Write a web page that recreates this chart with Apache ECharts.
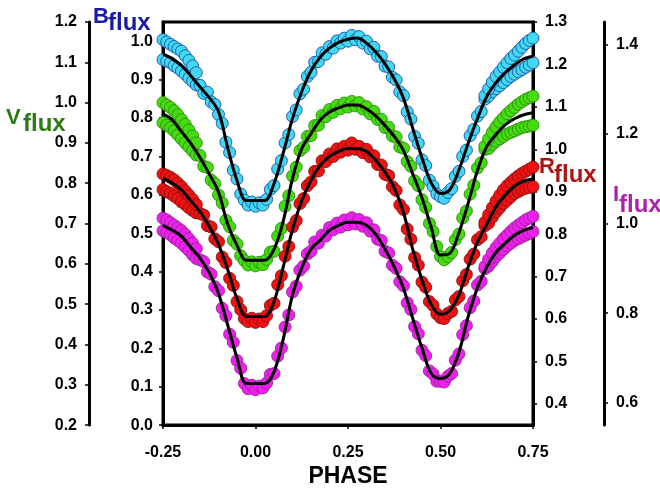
<!DOCTYPE html>
<html>
<head>
<meta charset="utf-8">
<script src="https://cdn.jsdelivr.net/npm/echarts@6/dist/echarts.min.js"></script>
<style>html,body{margin:0;padding:0;background:#fff}#c{width:660px;height:493px}</style>
</head>
<body>
<div id="c"></div>
<script>
// ---------- data ----------
const phase = [-0.25,-0.24,-0.23,-0.22,-0.21,-0.20,-0.19,-0.18,-0.17,-0.16,
-0.15,-0.14,-0.13,-0.12,-0.11,-0.10,-0.09,-0.08,-0.07,-0.06,
-0.05,-0.04,-0.03,-0.02,-0.01,0.00,0.01,0.02,0.03,0.04,
0.05,0.06,0.07,0.08,0.09,0.10,0.11,0.12,0.13,0.14,
0.15,0.16,0.17,0.18,0.19,0.20,0.21,0.22,0.23,0.24,
0.25,0.26,0.27,0.28,0.29,0.30,0.31,0.32,0.33,0.34,
0.35,0.36,0.37,0.38,0.39,0.40,0.41,0.42,0.43,0.44,
0.45,0.46,0.47,0.48,0.49,0.50,0.51,0.52,0.53,0.54,
0.55,0.56,0.57,0.58,0.59,0.60,0.61,0.62,0.63,0.64,
0.65,0.66,0.67,0.68,0.69,0.70,0.71,0.72,0.73,0.74,
0.75];

const bFlux = [.952,.948,.944,.936,.930,.922,.914,.904,.895,.886,
.885,.864,.867,.842,.835,.809,.786,.737,.710,.664,
.641,.602,.586,.573,.581,.570,.579,.573,.588,.614,
.624,.667,.689,.735,.757,.804,.821,.863,.875,.908,
.919,.945,.947,.970,.966,.986,.982,1.001,.995,1.008,
1.000,1.015,1.004,1.012,.995,1.000,.980,.984,.961,.960,
.935,.933,.906,.899,.868,.858,.816,.797,.752,.734,
.691,.676,.638,.622,.602,.595,.591,.606,.616,.648,
.661,.700,.716,.754,.770,.805,.817,.849,.857,.868,
.876,.884,.892,.900,.908,.914,.920,.926,.932,.938,
.944];

const vFlux = [.950,.944,.938,.930,.920,.910,.900,.890,.880,.870,
.869,.842,.839,.808,.799,.771,.751,.708,.692,.658,
.649,.620,.608,.597,.605,.595,.604,.598,.611,.629,
.631,.669,.688,.743,.769,.818,.840,.881,.889,.916,
.918,.943,.944,.968,.965,.983,.976,.993,.985,.999,
.989,1.003,.992,1.000,.984,.990,.972,.978,.958,.959,
.938,.939,.917,.915,.890,.887,.854,.842,.806,.794,
.759,.740,.700,.680,.643,.618,.610,.618,.628,.660,
.674,.714,.731,.773,.795,.838,.851,.884,.886,.896,
.904,.910,.916,.922,.926,.930,.934,.938,.940,.942,
.944];

const rFlux = [.905,.900,.896,.890,.884,.876,.870,.862,.856,.850,
.849,.845,.820,.817,.789,.782,.746,.733,.696,.679,
.641,.622,.601,.594,.602,.592,.600,.594,.608,.632,
.637,.681,.702,.748,.771,.817,.832,.872,.884,.914,
.923,.948,.949,.973,.971,.989,.983,1.001,.993,1.007,
.998,1.015,1.000,1.007,.992,1.000,.982,.985,.964,.963,
.941,.938,.912,.903,.869,.858,.812,.788,.745,.727,
.687,.675,.641,.632,.612,.603,.601,.613,.618,.645,
.653,.690,.705,.741,.753,.787,.794,.820,.826,.840,
.852,.862,.872,.880,.888,.896,.900,.905,.908,.910,
.912];

const iFlux = [.984,.980,.975,.968,.962,.956,.948,.940,.930,.922,
.919,.915,.892,.887,.859,.850,.811,.794,.753,.735,
.694,.677,.643,.631,.639,.629,.637,.633,.644,.663,
.665,.704,.722,.769,.796,.847,.860,.896,.905,.932,
.938,.959,.956,.974,.972,.991,.986,1.001,.992,1.008,
.997,1.013,.999,1.009,.994,1.002,.983,.986,.965,.962,
.938,.934,.907,.900,.870,.861,.823,.808,.770,.754,
.717,.705,.671,.664,.648,.648,.646,.659,.665,.695,
.709,.752,.772,.812,.827,.863,.871,.899,.905,.915,
.926,.934,.942,.950,.956,.962,.966,.970,.974,.978,
.982];

// second (upper) band of observations near the light-curve maxima at the plot edges
const edgePhase = [-0.25,-0.24,-0.23,-0.22,-0.21,-0.20,-0.19,-0.18,-0.17,-0.16,
0.62,0.63,0.64,0.65,0.66,0.67,0.68,0.69,0.70,0.71,0.72,0.73,0.74,0.75];
const bEdge = [1.004,.998,.992,.986,.980,.974,.962,.950,.936,.918,
.858,.876,.893,.908,.920,.932,.944,.955,.964,.974,.984,.994,1.002,1.008];
const vEdge = [1.000,.994,.988,.980,.970,.958,.946,.932,.918,.900,
.892,.910,.926,.940,.952,.962,.972,.980,.988,.996,1.002,1.008,1.012,1.016];
const rEdge = [.942,.938,.934,.928,.920,.912,.902,.892,.882,.870,
.828,.846,.862,.878,.892,.904,.914,.922,.930,.937,.943,.948,.953,.958];
const iEdge = [1.012,1.008,1.002,.996,.990,.984,.976,.966,.956,.944,
.904,.920,.934,.946,.956,.966,.974,.982,.990,.996,1.002,1.008,1.012,1.016];

// fitted model curves
const fitPhase = [-0.25,-0.225,-0.2,-0.175,-0.15,-0.125,-0.1,-0.075,-0.05,-0.025,
0,0.025,0.05,0.075,0.1,0.125,0.15,0.175,0.2,0.225,
0.25,0.275,0.3,0.325,0.35,0.375,0.4,0.425,0.45,0.475,
0.5,0.525,0.55,0.575,0.6,0.625,0.65,0.675,0.7,0.725,0.75];
const bFit = [.966,.954,.936,.910,.881,.853,.817,.722,.637,.585,
.585,.585,.629,.709,.799,.869,.923,.959,.982,.997,
1.005,1.008,.995,.972,.941,.902,.851,.773,.696,.631,
.603,.613,.665,.735,.799,.856,.892,.918,.938,.954,.961];
const vFit = [.972,.957,.928,.899,.864,.823,.778,.698,.646,.609,
.609,.609,.636,.706,.812,.886,.923,.957,.977,.987,
.994,.994,.984,.967,.943,.916,.881,.823,.764,.690,
.622,.626,.678,.751,.832,.891,.921,.945,.960,.970,.975];
const rFit = [.932,.920,.904,.879,.853,.818,.776,.716,.648,.606,
.606,.606,.641,.723,.811,.879,.927,.962,.983,.995,
1.002,1.002,.995,.974,.946,.909,.851,.764,.692,.634,
.611,.620,.657,.723,.781,.823,.865,.892,.913,.925,.930];
const iFit = [.996,.985,.972,.947,.923,.890,.844,.773,.700,.643,
.643,.643,.669,.742,.841,.901,.943,.963,.985,.996,
1.003,1.003,.996,.976,.943,.903,.855,.788,.722,.665,
.654,.665,.713,.793,.857,.903,.936,.956,.974,.985,.991];

const xTicks = [-0.25,0,0.25,0.5,0.75];
const bTicks = [0,0.1,0.2,0.3,0.4,0.5,0.6,0.7,0.8,0.9,1.0];
const vTicks = [0.2,0.3,0.4,0.5,0.6,0.7,0.8,0.9,1.0,1.1,1.2];
const rTicks = [0.4,0.5,0.6,0.7,0.8,0.9,1.0,1.1,1.2,1.3];
const iTicks = [0.6,0.8,1.0,1.2,1.4];

// ---------- chart ----------
const FONT = '"Liberation Sans", Arial, sans-serif';
const lbl = (margin) => ({show:true, color:'#000', fontFamily:FONT, fontWeight:'bold', fontSize:16, margin:margin,
  formatter: v => Number(v).toFixed(1)});
function yAx(pos, offset, min, max, ticks, margin){
  return {type:'value', position:pos, offset:offset, min:min, max:max,
    axisLine:{show:true, onZero:false, lineStyle:{color:'#000', width:3}},
    axisTick:{show:true, length:4, customValues:ticks, lineStyle:{color:'#000', width:1.5}},
    axisLabel:Object.assign(lbl(margin), {customValues:ticks}),
    splitLine:{show:false}};
}
const pts = (vals, edge) => phase.map((p,i)=>[p, vals[i]]).concat(edgePhase.map((p,i)=>[p, edge[i]]));
const fit = vals => fitPhase.map((p,i)=>[p, vals[i]]);
function sc(name, vals, edge, axis, fill, border){
  return {name:name, type:'scatter', yAxisIndex:axis, data:pts(vals, edge), symbolSize:12,
    itemStyle:{color:fill, borderColor:border, borderWidth:0.9, opacity:1}, z:2};
}
function ln(vals, axis){
  return {type:'line', yAxisIndex:axis, data:fit(vals), smooth:0.35, showSymbol:false, symbol:'none',
    lineStyle:{color:'#000', width:3}, z:5};
}
function title(x1, y1, big, x2, y2, small, color){
  return [
    {type:'text', x:x1, y:y1, style:{text:big, fill:color, font:'bold 22px ' + FONT, verticalAlign:'middle', align:'left'}},
    {type:'text', x:x2, y:y2, style:{text:small, fill:color, font:'bold 24px ' + FONT, verticalAlign:'middle', align:'left'}}
  ];
}

const chart = echarts.init(document.getElementById('c'), null, {renderer:'canvas'});
chart.setOption({
  animation:false,
  backgroundColor:'#fff',
  grid:{left:163, right:127, top:22, bottom:63, show:true, borderColor:'#000', borderWidth:3},
  xAxis:{type:'value', min:-0.25, max:0.75, interval:0.25,
    axisLine:{show:true, onZero:false, lineStyle:{color:'#000', width:3}},
    axisTick:{show:true, length:4, lineStyle:{color:'#000', width:1.5}},
    axisLabel:{show:true, color:'#000', fontFamily:FONT, fontWeight:'bold', fontSize:16, margin:19,
      formatter: v => Number(v).toFixed(2)},
    splitLine:{show:false},
    name:'PHASE', nameLocation:'middle', nameGap:38,
    nameTextStyle:{color:'#000', fontFamily:FONT, fontWeight:'bold', fontSize:23}},
  yAxis:[
    yAx('left', 0, 0, 1.05, bTicks, 10),
    yAx('left', 74, 0.2, 1.2, vTicks, 12),
    yAx('right', 0, 0.35, 1.3, rTicks, 12),
    yAx('right', 71, 0.55, 1.45, iTicks, 12)
  ],
  graphic:[].concat(
    title(93, 17, 'B', 108, 23, 'flux', '#1a1aa8'),
    title(6, 118, 'V', 23, 124, 'flux', '#2d7a10'),
    title(539, 167, 'R', 554, 175, 'flux', '#ac1515'),
    title(613, 195, 'I', 619, 205, 'flux', '#ad22ad')
  ),
  series:[
    sc('B', bFlux, bEdge, 0, '#40d8f5', '#1e4f9e'),
    sc('V', vFlux, vEdge, 1, '#44dc10', '#2e8a0e'),
    sc('R', rFlux, rEdge, 2, '#ee1212', '#8e1010'),
    sc('I', iFlux, iEdge, 3, '#ee20ee', '#992299'),
    ln(bFit, 0), ln(vFit, 1), ln(rFit, 2), ln(iFit, 3)
  ]
});
</script>
</body>
</html>
